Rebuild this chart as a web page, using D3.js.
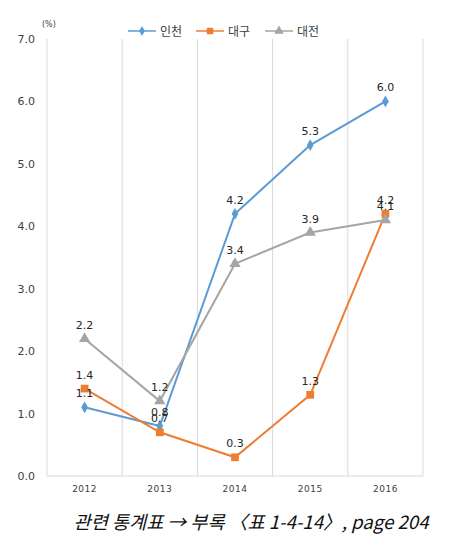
<!DOCTYPE html>
<html><head><meta charset="utf-8">
<script src="https://cdn.jsdelivr.net/npm/d3@7"></script>
<style>body{margin:0;background:#fff;}svg{display:block;font-family:"Noto Sans CJK KR","Noto Sans",sans-serif;}</style>
</head><body>
<svg id="c" width="474" height="540"></svg>
<script>
const years = ["2012","2013","2014","2015","2016"];
const incheon = [1.1, 0.8, 4.2, 5.3, 6.0];
const daegu = [1.4, 0.7, 0.3, 1.3, 4.2];
const daejeon = [2.2, 1.2, 3.4, 3.9, 4.1];
const seriesNames = ["인천","대구","대전"];
const yTicks = [0,1,2,3,4,5,6,7];

const series = [
  {name: seriesNames[0], values: incheon, color: "#5b9bd5", shape: d3.symbolDiamond, size: 40},
  {name: seriesNames[1], values: daegu, color: "#ed7d31", shape: d3.symbolSquare, size: 60},
  {name: seriesNames[2], values: daejeon, color: "#a5a5a5", shape: d3.symbolTriangle, size: 55}
];

const svg = d3.select("#c");
const L = 47, R = 423, T = 39, B = 476;
const x = d3.scaleBand().domain(years).range([L, R]);
const y = d3.scaleLinear().domain([0, 7]).range([B, T]);

const edges = years.map(d => x(d)).concat([R]);
svg.append("g").selectAll("line").data(edges).join("line")
  .attr("x1", d => d).attr("x2", d => d).attr("y1", T).attr("y2", B)
  .attr("stroke", "#d9d9d9").attr("stroke-width", 1);
svg.append("line").attr("x1", L).attr("x2", R).attr("y1", B).attr("y2", B)
  .attr("stroke", "#d9d9d9").attr("stroke-width", 1);

const yAxis = d3.axisLeft(y).tickValues(yTicks).tickFormat(d3.format(".1f")).tickSize(0).tickPadding(12);
const ga = svg.append("g").attr("transform", `translate(${L},0)`).call(yAxis);
ga.select(".domain").remove();
ga.selectAll("text").attr("font-size", 11).attr("fill", "#404040").attr("font-family", "DejaVu Sans, sans-serif");

const xAxis = d3.axisBottom(x).tickSize(0).tickPadding(10);
const gx = svg.append("g").attr("transform", `translate(0,${B})`).call(xAxis);
gx.select(".domain").remove();
gx.selectAll("text").attr("font-size", 9).attr("fill", "#404040").attr("letter-spacing", 0.5).attr("font-family", "DejaVu Sans, sans-serif");

svg.append("text").attr("x", 42).attr("y", 27).attr("font-size", 8).attr("fill", "#404040")
  .attr("font-family", "DejaVu Sans, sans-serif").text("(%)");

const cx = d => x(d) + x.bandwidth() / 2;
const line = d3.line().x((d, i) => cx(years[i])).y(d => y(d));

series.forEach(s => {
  svg.append("path").datum(s.values).attr("d", line)
    .attr("fill", "none").attr("stroke", s.color).attr("stroke-width", 2);
  svg.append("g").selectAll("path").data(s.values).join("path")
    .attr("d", d3.symbol().type(s.shape).size(s.size))
    .attr("transform", (d, i) => `translate(${cx(years[i])},${y(d)})`)
    .attr("fill", s.color);
});
series.forEach(s => {
  svg.append("g").selectAll("text").data(s.values).join("text")
    .attr("x", (d, i) => cx(years[i]))
    .attr("y", d => y(d) - 10)
    .attr("text-anchor", "middle").attr("font-size", 11).attr("fill", "#262626")
    .attr("font-family", "DejaVu Sans, sans-serif")
    .text(d => d3.format(".1f")(d));
});

const legendX = [128, 196, 265];
series.forEach((s, i) => {
  const g = svg.append("g").attr("transform", `translate(${legendX[i]},31)`);
  g.append("line").attr("x1", 0).attr("x2", 28).attr("y1", 0).attr("y2", 0)
    .attr("stroke", s.color).attr("stroke-width", 1.5);
  g.append("path").attr("d", d3.symbol().type(s.shape).size(s.size * 0.7))
    .attr("transform", "translate(14,0)").attr("fill", s.color);
  g.append("text").attr("x", 32).attr("y", 5).attr("font-size", 12).attr("fill", "#404040").text(s.name);
});

svg.append("text").attr("x", 251).attr("y", 529).attr("text-anchor", "middle")
  .attr("font-size", 18.5).attr("font-style", "italic").attr("fill", "#111")
  .attr("textLength", 355).attr("lengthAdjust", "spacingAndGlyphs")
  .text("관련 통계표 → 부록 〈표 1-4-14〉, page 204");
</script>
</body></html>
